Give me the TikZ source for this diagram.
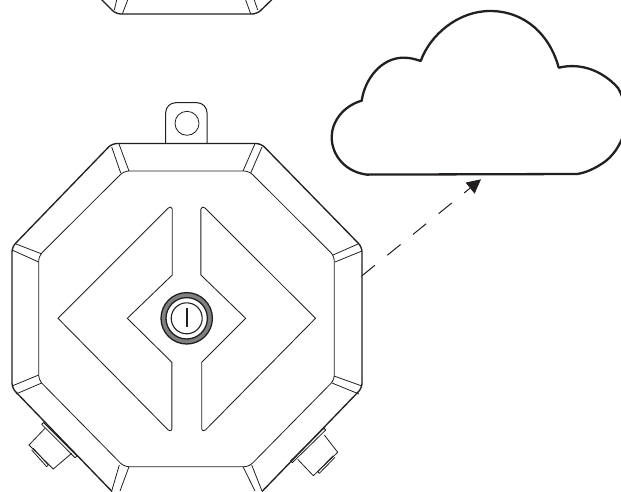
\documentclass[tikz,border=0pt]{standalone}
\usetikzlibrary{arrows.meta}
\definecolor{ink}{HTML}{231F20}
\definecolor{ringgrey}{HTML}{808080}
\tikzset{
  outerline/.style={draw=ink,line width=1.35pt,rounded corners=5pt},
  innerline/.style={draw=ink,line width=0.8pt,rounded corners=5pt},
  thinline/.style={draw=ink,line width=0.8pt},
  panelline/.style={draw=ink,line width=0.85pt,line join=miter},
  cloudline/.style={draw=ink,line width=2.3pt,line join=round},
  linkline/.style={draw=ink,line width=1pt,dash pattern=on 17pt off 16pt,-{Triangle[length=14pt,width=14pt]}}
}
\begin{document}
\begin{tikzpicture}[x=1pt,y=-1pt]
\useasboundingbox (0,0) rectangle (621,491);
\clip (0,0) rectangle (621,491);
% upper fragment
\draw[outerline] (97,-5) -- (116,14) -- (257,14) -- (276.7,-5);
\draw[thinline] (116.7,0) -- (114.3,10) (127.7,0) -- (122.3,14) (245.7,0) -- (250.7,14) (254.3,0) -- (257.7,10);
% tab
\draw[thinline,line width=1pt,rounded corners=10pt] (165.7,143.5) -- (165.7,102.7) -- (207,102.7) -- (207,143.5);
\draw[thinline] (187,123.3) circle (12);
% connectors
\draw[thinline] (45,428.3) -- (29,445) -- (53.3,469) -- (71.7,453.3);
\draw[thinline] (41.7,424.3) -- (75,457.7) (43.5,422.5) -- (77,456) (41.7,424.3) -- (43.5,422.5) (75,457.7) -- (77,456);
\draw[thinline] (31.7,450) -- (46.7,466.7) (33.3,448.3) -- (48.3,465) (46.7,466.7) -- (48.3,465);
\draw[thinline] (324.3,435) -- (337.7,452.3) -- (313.3,475.7) -- (297.7,459.3);
\draw[thinline] (292.3,462.7) -- (325.7,430) (290.5,461) -- (324,428.2) (292.3,462.7) -- (290.5,461) (325.7,430) -- (324,428.2);
\draw[thinline] (335,457.3) -- (319.3,473.3) (333.3,455.6) -- (317.6,471.6) (319.3,473.3) -- (317.6,471.6);
% body
\draw[outerline] (112,491.5) -- (12,388) -- (12,247) -- (112,143.5) -- (261,143.5) -- (362,247) -- (362,388) -- (262,491.5);
\draw[innerline] (124,466.7) -- (38.7,380) -- (38.7,256) -- (124,171) -- (249,171) -- (334.3,256) -- (334.3,380) -- (249,466.7) -- cycle;
% bevels
\draw[thinline]
 (111.7,147) -- (120.7,173) (119,144) -- (129,171)
 (16,244) -- (42,254) (12,250) -- (38.7,262)
 (255,143.7) -- (243,171) (262,147) -- (250.7,173)
 (358,244) -- (333,255) (362,251) -- (335,262)
 (12,386) -- (38.7,375) (16,394) -- (41.7,383)
 (119.3,465) -- (111.7,491) (129,466.7) -- (120,491)
 (243,466.7) -- (255,491) (251.7,465) -- (262,491)
 (334,376) -- (362,386) (332,383) -- (359,394);
% diamond halves
\draw[panelline] (172.3,209) -- (172.3,275) -- (127.3,318.3) -- (171.9,362.3) -- (171.9,428)
  .. controls (171.9,431) and (169.8,431.6) .. (168.2,430) -- (58,318.3) -- (168.2,208)
  .. controls (169.8,206.4) and (172.3,207) .. (172.3,209) -- cycle;
\draw[panelline] (200.9,209) -- (200.9,275) -- (245.7,318.3) -- (201.7,362.3) -- (201.7,428)
  .. controls (201.7,431) and (203.8,431.6) .. (205.4,430) -- (315.5,318.3) -- (205,208)
  .. controls (203.4,206.4) and (200.9,207) .. (200.9,209) -- cycle;
% button
\draw[draw=ink,fill=ringgrey,line width=1.3pt] (186.7,318.3) circle (25.7);
\draw[draw=ink,fill=white,line width=1.3pt] (186.7,318.3) circle (20.7);
\draw[draw=ink,line width=1.1pt] (186.7,318.3) circle (15.5);
\draw[draw=ink,line width=2.4pt] (186.7,308.3) -- (186.7,327.3);
% cloud
\draw[cloudline] (366.7,174.6) -- (576.7,174)
 .. controls (585,173) and (594,169) .. (603,163)
 .. controls (615,155) and (626,138) .. (626,118)
 .. controls (626,105) and (622,95) .. (618,88)
 .. controls (604,72) and (582,62) .. (558.7,67.7)
 .. controls (550,35) and (525,11) .. (490,11)
 .. controls (458,11) and (430,35) .. (420.7,61)
 .. controls (415,59) and (410,57.7) .. (403.3,57.7)
 .. controls (382,57.7) and (365,78) .. (361.7,100.7)
 .. controls (343,106) and (331.7,122) .. (331.7,137)
 .. controls (331.7,156) and (346,172) .. (366.7,174.6) -- cycle;
% link
\coordinate (linkstart) at (361.7,276);
\coordinate (linkend) at (481,179.3);
\draw[linkline] (linkstart) -- (linkend);
\end{tikzpicture}
\end{document}
